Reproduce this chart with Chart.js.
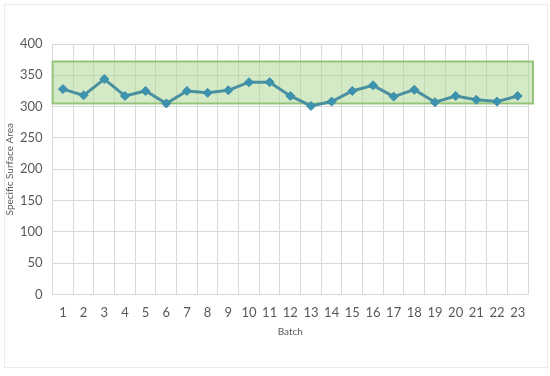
<!DOCTYPE html>
<html>
<head>
<meta charset="utf-8">
<script src="https://cdn.jsdelivr.net/npm/chart.js@4/dist/chart.umd.min.js"></script>
<style>
  html, body { margin: 0; padding: 0; background: #fff; }
  #frame { position: absolute; left: 4px; top: 4px; width: 542px; height: 362px; border: 1px solid #ececec; }
  #wrap { position: absolute; left: 0; top: 0; width: 550px; height: 376px; }
</style>
</head>
<body>
<div id="frame"></div>
<div id="wrap"><canvas id="chart" width="550" height="376"></canvas></div>
<script>
// batches and measured values
const batches = ['1','2','3','4','5','6','7','8','9','10','11','12','13','14','15','16','17','18','19','20','21','22','23'];
const surfaceArea = [328, 318, 344, 317, 325, 305, 325, 322, 326, 339, 339, 317, 301, 308, 325, 334, 316, 327, 307, 317, 311, 308, 317];

// acceptance range (shaded band)
const bandLow = 305;
const bandHigh = 372;

const yTicks = [0, 50, 100, 150, 200, 250, 300, 350, 400];

const tickColor = '#595959';
const gridColor = '#d9d9d9';

Chart.defaults.font.family = 'Lato, "Open Sans", sans-serif';

// shaded range behind the line, placed with the y scale
const bandPlugin = {
    id: 'band',
    beforeDatasetsDraw(chart) {
        const { ctx, chartArea, scales } = chart;
        const top = scales.y.getPixelForValue(bandHigh);
        const bottom = scales.y.getPixelForValue(bandLow);
        ctx.save();
        ctx.fillStyle = 'rgba(170, 212, 140, 0.5)';
        ctx.strokeStyle = '#93c47a';
        ctx.lineWidth = 2;
        ctx.fillRect(chartArea.left, top, chartArea.right - chartArea.left + 5, bottom - top);
        ctx.strokeRect(chartArea.left, top, chartArea.right - chartArea.left + 5, bottom - top);
        ctx.restore();
    }
};

const ctx = document.getElementById('chart').getContext('2d');
new Chart(ctx, {
    type: 'line',
    data: {
        labels: batches,
        datasets: [
            {
                label: 'Specific Surface Area',
                data: surfaceArea,
                borderColor: '#4a90a0',
                borderWidth: 3,
                backgroundColor: '#3c93b0',
                pointStyle: 'rectRot',
                pointRadius: 4.5,
                pointBorderColor: '#3d8da5',
                pointBorderWidth: 1,
                tension: 0
            }
        ]
    },
    options: {
        responsive: false,
        animation: false,
        layout: { padding: { left: 4, right: 22, top: 44, bottom: 38 } },
        plugins: {
            legend: { display: false },
            tooltip: { enabled: false }
        },
        scales: {
            x: {
                offset: true,
                grid: { offset: true, color: gridColor, drawTicks: false },
                border: { color: gridColor },
                ticks: { color: tickColor, font: { size: 13 }, padding: 11, maxRotation: 0, autoSkip: false },
                title: { display: true, text: 'Batch', color: tickColor, font: { size: 10 }, padding: { top: -6, bottom: 0 } }
            },
            y: {
                min: 0,
                max: 400,
                afterBuildTicks: axis => { axis.ticks = yTicks.map(v => ({ value: v })); },
                grid: { color: gridColor, drawTicks: false },
                border: { display: false },
                ticks: { color: tickColor, font: { size: 13 }, padding: 10 },
                title: { display: true, text: 'Specific Surface Area', color: tickColor, font: { size: 10 }, padding: { top: 0, bottom: -6 } }
            }
        }
    },
    plugins: [bandPlugin]
});
</script>
</body>
</html>
